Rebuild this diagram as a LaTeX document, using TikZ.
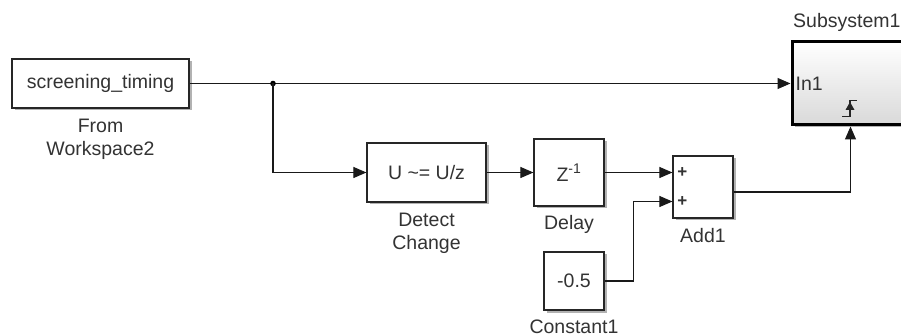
\documentclass[tikz,border=0pt]{standalone}
\usepackage{fontspec}
\setmainfont{Liberation Sans}
\usetikzlibrary{positioning,calc,arrows.meta,shadows}

\tikzset{
    block/.style={draw=black!85, line width=1.2pt, fill=white, inner sep=0pt,
        font=\fontsize{19.5}{22}\selectfont, text=black!80,
        drop shadow={shadow xshift=2.5pt, shadow yshift=-2.5pt, fill=black, opacity=0.3}},
    caption/.style={font=\fontsize{19.5}{23}\selectfont, text=black!80, align=center,
        inner sep=0pt, anchor=base},
    wire/.style={draw=black!90, line width=1.1pt},
    sig/.style={wire, -{Triangle[length=13pt,width=11pt]}},
}

\begin{document}
\begin{tikzpicture}[x=1pt, y=-1pt]
    \clip (0,0) rectangle (901,336);
    \fill[white] (0,0) rectangle (901,336);

    % blocks
    \node[block, minimum width=177pt, minimum height=49pt] (ws) at (100.5,83.5) {screening\_timing};
    \node[block, minimum width=119pt, minimum height=59pt] (detect) at (426.5,172.5) {U \textasciitilde= U/z};
    \node[block, minimum width=70pt, minimum height=67pt] (delay) at (569,172.5) {Z\textsuperscript{\fontsize{14}{14}\selectfont -1}};
    \node[block, minimum width=60pt, minimum height=62pt] (add) at (703,187) {};
    \node[block, minimum width=60pt, minimum height=58pt] (const) at (574,281) {-0.5};
    \node[draw=black, line width=3pt, top color=white, bottom color=black!15,
        minimum width=240pt, minimum height=83pt, inner sep=0pt,
        drop shadow={shadow xshift=2.5pt, shadow yshift=-2.5pt, fill=black, opacity=0.3}]
        (sub) at (912,83.5) {};

    % block names (base anchor sits on the last line)
    \node[caption] at ([yshift=-47pt]ws.south) {From\\Workspace2};
    \node[caption] at ([yshift=-47pt]detect.south) {Detect\\Change};
    \node[caption] at ([yshift=-23pt]delay.south) {Delay};
    \node[caption] at ([yshift=-24pt]add.south) {Add1};
    \node[caption] at ([yshift=-22.5pt]const.south) {Constant1};
    \node[caption, anchor=base west] at (793,28) {Subsystem1};

    % port labels
    \node[caption, anchor=west] at ([xshift=5pt]sub.west) {In1};
    \node[caption, font=\fontsize{17}{17}\selectfont\bfseries, anchor=center] at ([xshift=10pt,yshift=14.5pt]add.west) {+};
    \node[caption, font=\fontsize{17}{17}\selectfont\bfseries, anchor=center] at ([xshift=10pt,yshift=-14.5pt]add.west) {+};

    % rising edge trigger mark
    \draw[line width=1.4pt, black!85] (842,116.5) -- (850,116.5) -- (850,100.5) -- (857,100.5);
    \fill[black!85] (850,102) -- (845.5,110) -- (854.5,110) -- cycle;

    % signal lines
    \coordinate (split) at (273,83.5);
    \coordinate (add in1) at ([yshift=14.5pt]add.west);
    \coordinate (add in2) at ([yshift=-14.5pt]add.west);
    \coordinate (add out) at ([yshift=-5pt]add.east);
    \coordinate (trig) at ($(sub.south west)+(60,0)$);

    \draw[sig] (ws.east) -- (sub.west);
    \fill (split) circle (2.8pt);
    \draw[sig] (split) |- (detect.west);
    \draw[sig] (detect.east) -- (delay.west);
    \draw[sig] (delay.east) -- (add in1);
    \draw[sig] (const.east) -- ++(29,0) |- (add in2);
    \draw[sig] (add out) -| (trig);
\end{tikzpicture}
\end{document}
